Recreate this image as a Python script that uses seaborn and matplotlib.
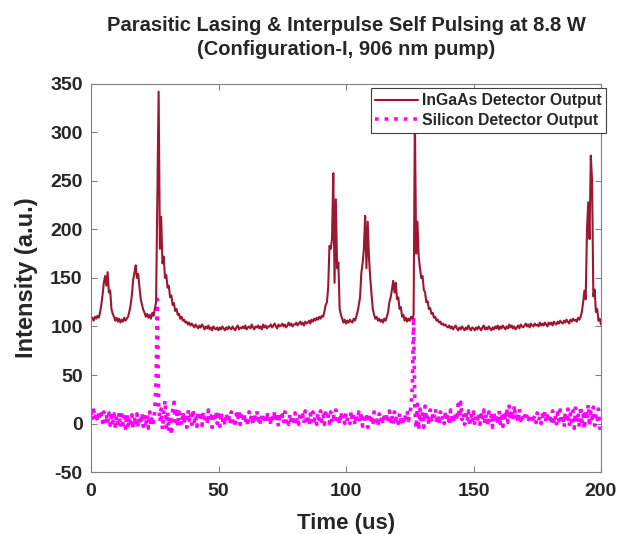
import numpy as np
import pandas as pd
import matplotlib
matplotlib.use("Agg")
import matplotlib.pyplot as plt
import seaborn as sns

# ---------------- data (0.5 us sampling, 0..200 us) ----------------
ingaas_output = [
    107,109,106,110,108,111,109,114,122,132,
    145,152,142,156,135,137,118,113,110,106,
    109,105,108,104,107,105,109,106,108,110,
    115,122,132,148,155,163,150,154,140,128,
    122,117,114,110,113,109,112,108,114,111,
    118,125,230,342,180,213,165,172,150,153,
    140,142,130,132,122,124,116,118,112,113,
    108,110,106,107,104,105,102,104,101,103,
    101,99,102,100,98,101,99,102,100,97,
    100,98,101,97,99,96,100,98,97,99,
    96,99,97,100,98,96,99,97,100,98,
    97,100,98,96,99,101,97,99,98,100,
    98,101,97,99,100,98,102,99,97,100,
    99,101,98,100,97,102,99,101,98,100,
    100,102,99,101,103,100,98,102,100,101,
    103,100,102,99,101,104,101,103,100,102,
    102,104,101,103,105,102,104,101,105,103,
    104,106,103,107,105,108,106,109,107,110,
    108,111,110,115,122,125,140,183,180,190,
    258,145,231,160,166,118,112,108,104,107,
    103,106,104,107,105,104,108,106,110,115,
    122,130,155,165,180,214,160,208,171,150,
    133,118,112,108,110,106,108,105,107,104,
    108,106,110,115,125,130,138,147,135,145,
    128,130,118,120,110,112,106,109,105,108,
    106,110,108,112,315,175,208,172,160,150,
    152,138,135,125,126,118,119,113,114,109,
    110,106,107,104,105,102,103,101,102,100,
    99,101,98,100,97,99,101,98,96,99,
    97,100,98,96,99,97,101,98,96,99,
    98,96,99,97,100,98,96,99,101,97,
    99,97,100,98,96,99,97,100,98,101,
    97,100,98,101,99,97,100,98,102,99,
    101,98,100,97,99,101,98,102,100,99,
    101,103,100,102,99,103,101,100,103,101,
    102,100,104,101,103,101,104,102,100,104,
    102,104,101,105,103,102,105,103,106,104,
    103,106,104,107,105,103,107,105,108,106,
    107,105,109,107,110,115,125,137,128,200,
    228,190,276,250,131,138,115,118,106,108,
    102,
]

silicon_output = [
    12,3,14,5,11,2,13,4,10,1,
    12,2,9,0,11,-2,8,1,10,-3,
    8,0,11,-4,9,-1,7,-5,10,-2,
    6,-3,9,-6,7,-2,10,-4,8,-1,
    11,-3,7,0,9,-5,12,-2,8,1,
    14,45,128,18,2,15,-6,10,24,-4,
    12,-8,8,-12,14,22,2,16,-3,12,
    6,-2,12,1,9,-4,14,3,11,-1,
    15,2,9,-3,13,4,8,-2,12,5,
    10,-1,14,3,8,-4,11,2,13,0,
    9,-3,12,1,7,-2,11,4,8,-1,
    12,2,6,-4,10,3,13,-1,8,2,
    11,0,7,-3,12,4,9,-2,10,1,
    13,3,8,-1,11,5,9,0,12,2,
    8,-2,10,3,13,1,7,-3,11,4,
    9,0,12,2,6,-1,10,3,8,-2,
    11,2,7,-1,12,4,9,0,13,3,
    8,-2,10,1,12,3,7,-1,11,4,
    13,2,9,-1,11,5,8,0,12,3,
    10,1,14,4,8,-1,12,3,9,0,
    11,4,7,0,13,2,9,-2,10,3,
    12,1,8,-3,10,2,7,-4,11,0,
    9,-2,12,1,6,-3,10,2,8,-1,
    11,3,7,0,13,2,9,-1,12,4,
    8,0,11,2,6,-2,10,1,13,3,
    10,18,38,110,14,-5,20,-7,15,2,
    12,-4,18,3,9,-2,14,1,10,5,
    15,3,9,-1,12,4,8,0,13,2,
    10,-2,14,5,9,1,12,3,20,6,
    22,4,11,-1,9,2,13,-3,10,1,
    12,-2,8,3,11,-1,9,2,14,0,
    10,-3,12,1,8,-4,11,2,9,-1,
    13,0,7,-3,12,3,16,1,18,4,
    14,2,19,5,11,1,15,3,9,2,
    8,3,10,4,7,2,9,5,8,1,
    11,3,7,0,9,4,12,1,8,2,
    10,-1,13,2,8,-2,11,3,14,0,
    9,-4,12,1,15,-3,10,2,13,-5,
    16,0,11,-4,18,2,9,-6,14,3,
    20,-3,12,5,17,-2,10,4,15,-4,
    -8,
]

time_us = np.linspace(0, 200, len(ingaas_output))
time_si = np.linspace(0, 200, len(silicon_output))

x_ticks = [0, 50, 100, 150, 200]
y_ticks = [-50, 0, 50, 100, 150, 200, 250, 300, 350]

title_text = "Parasitic Lasing & Interpulse Self Pulsing at 8.8 W\n(Configuration-I, 906 nm pump)"
label_ingaas = "InGaAs Detector Output"
label_silicon = "Silicon Detector Output"

# ---------------- style ----------------
sns.set_theme(style="white")
plt.rcParams['font.family'] = ['Liberation Sans', 'DejaVu Sans']
plt.rcParams['font.weight'] = 'bold'
plt.rcParams['axes.unicode_minus'] = False

fig = plt.figure(figsize=(6.28, 5.34), dpi=100)
ax = fig.add_axes([0.145, 0.116, 0.812, 0.727])

df_i = pd.DataFrame({"t": time_us, "v": ingaas_output})
df_s = pd.DataFrame({"t": time_si, "v": silicon_output})

sns.lineplot(data=df_s, x="t", y="v", ax=ax, color="#FF00FF", lw=2.6,
             linestyle=":", label=label_silicon, errorbar=None, sort=False)
sns.lineplot(data=df_i, x="t", y="v", ax=ax, color="#9E1630", lw=1.5,
             label=label_ingaas, errorbar=None, sort=False)

ax.set_xlim(0, 200)
ax.set_ylim(-50, 350)
ax.set_xticks(x_ticks)
ax.set_yticks(y_ticks)
ax.tick_params(axis='both', which='both', direction='in', length=4, width=0.8,
               color='#808080', labelsize=14, top=True, right=True,
               bottom=True, left=True)
ax.tick_params(axis='y', pad=6)
ax.tick_params(axis='x', pad=8)
for lab in ax.get_xticklabels() + ax.get_yticklabels():
    lab.set_fontweight('bold')
for sp in ax.spines.values():
    sp.set_color('#808080')
    sp.set_linewidth(0.8)

ax.set_xlabel("Time (us)", fontsize=16, fontweight='bold', labelpad=9)
ax.set_ylabel("Intensity (a.u.)", fontsize=17, fontweight='bold', labelpad=9)
ax.set_title(title_text, fontsize=14.5, fontweight='bold', pad=21, linespacing=1.3)

handles, labels = ax.get_legend_handles_labels()
order = [1, 0]
leg = ax.legend([handles[i] for i in order], [labels[i] for i in order],
                loc='upper right', bbox_to_anchor=(1.010, 0.988), fontsize=11.3,
                frameon=True, fancybox=False, edgecolor='#404040', framealpha=1,
                borderpad=0.3, handlelength=2.7, handletextpad=0.25, labelspacing=0.3,
                borderaxespad=0)
leg.get_frame().set_linewidth(0.8)
for t in leg.get_texts():
    t.set_fontweight('bold')

fig.savefig("out.png", dpi=100)
